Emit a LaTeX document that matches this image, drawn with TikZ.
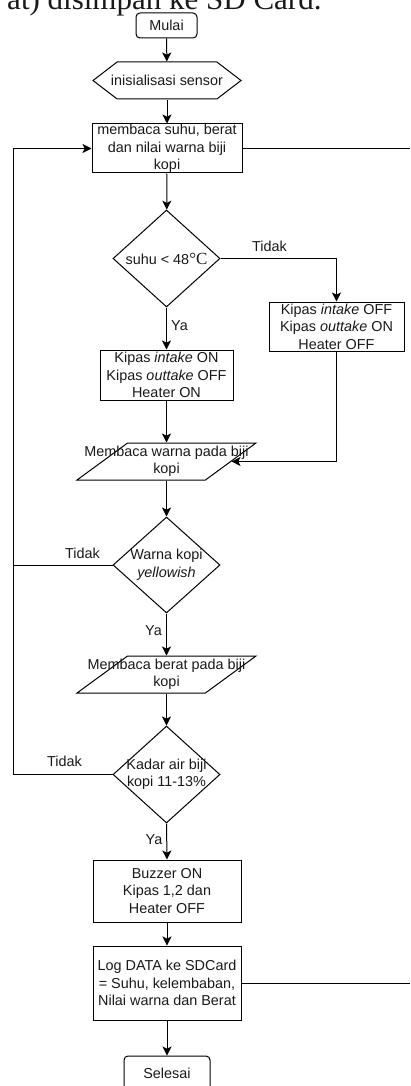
\documentclass[tikz,border=0pt]{standalone}
\usepackage{fontspec}
\setmainfont{Liberation Sans}
\newfontfamily\serifface{Liberation Serif}
\usetikzlibrary{shapes.geometric,shapes.symbols,arrows.meta,calc}

\begin{document}
\begin{tikzpicture}[x=1pt,y=-1pt,line width=1pt,
  every node/.style={font=\fontsize{14.4}{17.5}\selectfont,inner sep=0pt,text=black!90},
  procbox/.style={draw,rectangle,align=center},
  terminal/.style={draw,rectangle,rounded corners=4pt,align=center},
  decision/.style={draw,diamond,minimum width=107pt,minimum height=97pt},
  inputbox/.style={draw,trapezium,trapezium left angle=57,trapezium right angle=123,
    trapezium stretches=true,inner sep=2pt,minimum width=179pt,minimum height=37pt},
  prepbox/.style={draw,signal,signal to=west and east,signal pointer angle=75,
    minimum width=148pt,minimum height=37pt},
  txt/.style={align=center},
  lbl/.style={},
  arr/.style={-{Stealth[length=9pt,width=9pt,inset=2.2pt]}}]

\clip (0,0) rectangle (410,1086);

% heading fragment above the chart
\node[font=\serifface\fontsize{31}{31}\selectfont,anchor=base east] (title) at (322,10) {at) disimpan ke SD Card.};

% nodes
\node[terminal,minimum width=61pt,minimum height=25pt] (start) at (166.5,25.5) {Mulai};
\node[prepbox] (init) at (167,80.5) {};
\node[txt] (initT) at (init) {inisialisasi sensor};
\node[procbox,minimum width=150pt,minimum height=49pt] (read1) at (167,148.5)
  {membaca suhu, berat\\dan nilai warna biji\\kopi};
\node[decision] (d1) at (166.5,258.5) {};
\node[txt] (d1T) at (d1) {suhu < 48{\serifface\fontsize{17}{17}\selectfont °C}};
\node[procbox,minimum width=135pt,minimum height=49pt] (rb) at (336.5,326.5)
  {Kipas \textit{intake} OFF\\Kipas \textit{outtake} ON\\Heater OFF};
\node[procbox,minimum width=133pt,minimum height=50pt] (lb) at (166.5,375)
  {Kipas \textit{intake} ON\\Kipas \textit{outtake} OFF\\Heater ON};
\node[inputbox] (in1) at (166.5,461.5) {};
\node[txt] (in1T) at (in1) {Membaca warna pada biji\\kopi};
\node[decision,minimum height=96pt] (d2) at (166.5,565) {};
\node[txt] (d2T) at (d2) {Warna kopi\\\textit{yellowish}};
\node[inputbox] (in2) at (166.5,674.5) {};
\node[txt] (in2T) at (in2) {Membaca berat pada biji\\kopi};
\node[decision] (d3) at (166.5,774.5) {};
\node[txt] (d3T) at (d3) {Kadar air biji\\kopi 11-13\%};
\node[procbox,minimum width=148pt,minimum height=62pt] (buz) at (167,891)
  {Buzzer ON\\Kipas 1,2 dan\\Heater OFF};
\node[procbox,minimum width=148pt,minimum height=74pt] (logb) at (167,983)
  {Log DATA ke SDCard\\= Suhu, kelembaban,\\Nilai warna dan Berat};
\node[terminal,minimum width=86pt,minimum height=48pt] (stop) at (167,1080) {};
\node[txt] (stopT) at (167,1073) {Selesai};

% helper points
\coordinate (loopL) at (13,774.5);
\coordinate (edgeR) at (410,0);

% connectors
\draw[arr] (start) -- (init);
\draw[arr] (init) -- (read1);
\draw[arr] (read1) -- (d1);
\draw[arr] (d1.east) -| (rb.north);
\draw[arr] (d1.south) -- (lb.north);
\draw[arr] (lb.south) -- (in1.north);
\draw[arr] (rb.south) |- (in1.east);
\draw[arr] (in1.south) -- (d2.north);
\draw[arr] (d2.south) -- (in2.north);
\draw[arr] (in2.south) -- (d3.north);
\draw[arr] (d3.south) -- (buz.north);
\draw[arr] (buz.south) -- (logb.north);
\draw[arr] (logb.south) -- (stop.north);
\draw[arr] (d3.west) -- (loopL) |- (read1.west);
\draw (d2.west) -- (d2.west -| loopL);
\draw (read1.east) -- (read1.east -| edgeR);
\draw (logb.east) -- (logb.east -| edgeR);

% branch labels
\node[lbl] (t1) at (269.5,246) {Tidak};
\node[lbl] (y1) at (179.5,326) {Ya};
\node[lbl] (t2) at (82.5,553) {Tidak};
\node[lbl] (y2) at (153.5,631) {Ya};
\node[lbl] (t3) at (64.5,761) {Tidak};
\node[lbl] (y3) at (154,840) {Ya};
\end{tikzpicture}
\end{document}
